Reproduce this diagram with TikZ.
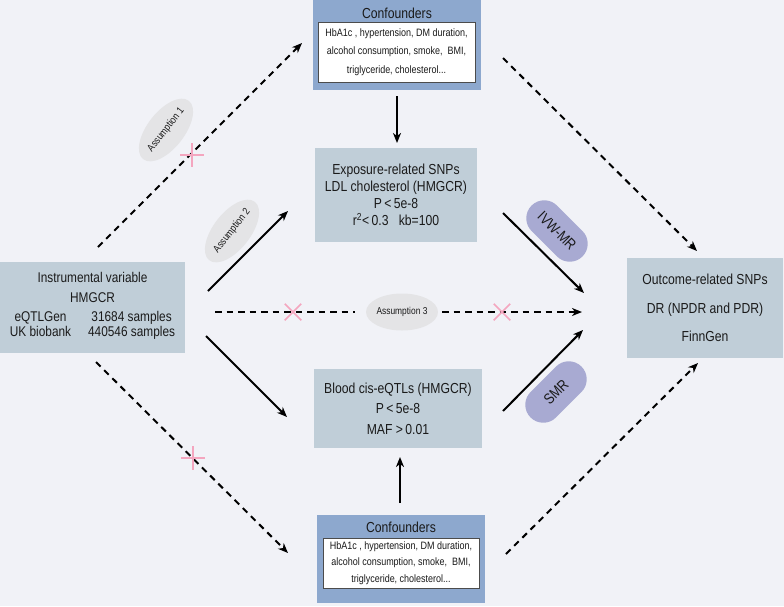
\documentclass[tikz,border=0pt]{standalone}
\usepackage{fontspec}
\setmainfont{Liberation Sans}[FakeStretch=0.84]
\usetikzlibrary{arrows.meta,shapes.geometric,shapes.misc}
\definecolor{bgc}{HTML}{F1F2F7}
\definecolor{boxc}{HTML}{C0CED8}
\definecolor{confc}{HTML}{8DA8CE}
\definecolor{pillc}{HTML}{A8AAD2}
\definecolor{ellc}{HTML}{E4E4E6}
\definecolor{pinkc}{HTML}{F4A6BF}
\definecolor{txtc}{HTML}{1A1A1A}
\begin{document}
\begin{tikzpicture}[x=1pt,y=-1pt,
  gbox/.style={rectangle, fill=boxc, draw=none, inner sep=0pt, align=center, text=txtc},
  cbox/.style={rectangle, fill=confc, draw=none, inner sep=0pt},
  chead/.style={inner sep=0pt, text=txtc, font=\fontsize{14.5}{16}\selectfont},
  wbox/.style={rectangle, fill=white, draw=black!70, line width=0.8pt, inner sep=0pt, align=center, text=txtc},
  assum/.style={ellipse, fill=ellc, draw=none, inner sep=0pt, minimum width=66pt, minimum height=37pt, text=txtc, font=\fontsize{10.3}{11}\selectfont},
  pill/.style={rectangle, rounded corners=18pt, fill=pillc, draw=none, minimum width=72pt, minimum height=36pt, inner sep=0pt, text=txtc, font=\fontsize{15}{16}\selectfont},
  tip/.style={-{Stealth[length=10pt,width=8pt,inset=3pt]}},
  solidarrow/.style={line width=2pt, tip},
  dashline/.style={line width=2pt, dash pattern=on 6.5pt off 5pt},
  dasharrow/.style={dashline, tip},
  xmark/.style={cross out, draw=pinkc, line width=1.5pt, minimum size=15pt, inner sep=0pt}
]
\useasboundingbox[fill=bgc] (0,0) rectangle (784,606);

% boxes
\node[cbox, minimum width=168pt, minimum height=90pt] (conf1) at (397,45) {};
\node[chead] (conf1h) at (397,13) {Confounders};
\node[wbox, minimum width=157pt, minimum height=60pt, font=\fontsize{10.7}{18.5}\selectfont] (conf1in) at (396.5,52)
  {HbA1c , hypertension, DM duration,\\alcohol consumption, smoke,\ \ BMI,\\triglyceride, cholesterol...};

\node[gbox, minimum width=162pt, minimum height=94pt, font=\fontsize{14.5}{17}\selectfont] (expo) at (396,195)
  {Exposure-related SNPs\\LDL cholesterol (HMGCR)\\P\,<\,5e-8\\r\textsuperscript{2}<\,0.3\ \ \ kb=100};

\node[gbox, minimum width=185pt, minimum height=91pt, font=\fontsize{14.1}{20.5}\selectfont] (iv) at (92.5,307.5)
  {Instrumental variable\\HMGCR\\[-1.5pt]\begin{tabular}[t]{@{}c@{\hspace{17pt}}c@{}}eQTLGen & 31684 samples\\[-5.5pt]UK biobank & 440546 samples\end{tabular}};

\node[gbox, minimum width=168pt, minimum height=79pt, font=\fontsize{14.5}{20.5}\selectfont] (blood) at (398,408.5)
  {Blood cis-eQTLs (HMGCR)\\P\,<\,5e-8\\MAF\ >\,0.01};

\node[cbox, minimum width=168pt, minimum height=88pt] (conf2) at (401,559) {};
\node[chead] (conf2h) at (401,527) {Confounders};
\node[wbox, minimum width=156pt, minimum height=50pt, font=\fontsize{10.7}{16.5}\selectfont] (conf2in) at (401,563)
  {HbA1c , hypertension, DM duration,\\alcohol consumption, smoke,\ \ BMI,\\triglyceride, cholesterol...};

\node[gbox, minimum width=156pt, minimum height=100pt, font=\fontsize{14.5}{28.5}\selectfont] (out) at (705,308)
  {Outcome-related SNPs\\DR (NPDR and PDR)\\FinnGen};

% labels
\node[assum, rotate=52] (as1) at (166,130) {Assumption 1};
\node[assum, rotate=52] (as2) at (232,231) {Assumption 2};
\node[assum, font=\fontsize{10}{11}\selectfont] (as3) at (402,312) {Assumption 3};
\node[pill, rotate=-45] (ivw) at (557,231) {IVW-MR};
\node[pill, rotate=45] (smr) at (556,392) {SMR};

% endpoints
\coordinate (a1s) at (98,247);   \coordinate (a1e) at (302,43);
\coordinate (a2s) at (208,291);  \coordinate (a2e) at (288,211);
\coordinate (a3s) at (215,312);  \coordinate (a3m) at (355,312);
\coordinate (a3n) at (442,312);  \coordinate (a3e) at (582,312);
\coordinate (a4s) at (206,336);  \coordinate (a4e) at (287,417);
\coordinate (a5s) at (96,362);   \coordinate (a5e) at (288,553);
\coordinate (v1s) at (397,96);   \coordinate (v1e) at (397,143);
\coordinate (v2s) at (400,503);  \coordinate (v2e) at (400,457);
\coordinate (ivs) at (503,213);  \coordinate (ive) at (584,293);
\coordinate (sms) at (503,411);  \coordinate (sme) at (583,330);
\coordinate (trs) at (503,58);   \coordinate (tre) at (697,251);
\coordinate (brs) at (506,554);  \coordinate (bre) at (698,363);

% connectors
\draw[dasharrow] (a1s) -- (a1e);
\draw[solidarrow] (a2s) -- (a2e);
\draw[dashline] (a3s) -- (a3m);
\draw[dasharrow] (a3n) -- (a3e);
\draw[solidarrow] (a4s) -- (a4e);
\draw[dasharrow] (a5s) -- (a5e);
\draw[solidarrow] (v1s) -- (v1e);
\draw[solidarrow] (v2s) -- (v2e);
\draw[solidarrow] (ivs) -- (ive);
\draw[solidarrow] (sms) -- (sme);
\draw[dasharrow] (trs) -- (tre);
\draw[dasharrow] (brs) -- (bre);

% crosses
\node[xmark, rotate=45] (x1) at (192,155) {};
\node[xmark, rotate=45] (x2) at (193,458) {};
\node[xmark] (x3) at (293,312) {};
\node[xmark] (x4) at (502,312) {};
\end{tikzpicture}
\end{document}
